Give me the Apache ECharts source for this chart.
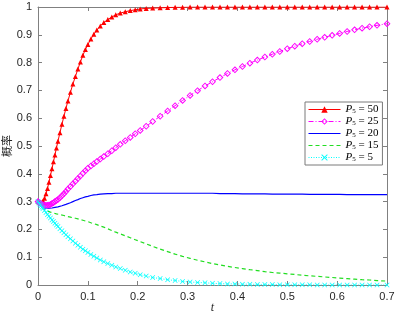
<!DOCTYPE html>
<html>
<head>
<meta charset="utf-8">
<script src="https://cdn.jsdelivr.net/npm/echarts@6/dist/echarts.min.js"></script>
<style>
html, body { margin: 0; padding: 0; background: #fff; }
#main { width: 397px; height: 316px; }
</style>
</head>
<body>
<div id="main"></div>
<script>
// ---------------- data ----------------
var tVals = [0, 0.002, 0.004, 0.006, 0.008, 0.01, 0.013, 0.016, 0.019, 0.022, 0.025, 0.028, 0.031, 0.034, 0.037, 0.04,
    0.044, 0.048, 0.052, 0.056, 0.06, 0.065, 0.07, 0.075, 0.08, 0.085, 0.09, 0.095, 0.1, 0.106, 0.112, 0.118,
    0.125, 0.132, 0.14, 0.148, 0.156, 0.165, 0.175, 0.185, 0.195, 0.205, 0.217, 0.23, 0.245, 0.26, 0.275, 0.29,
    0.305, 0.32, 0.335, 0.35, 0.365, 0.38, 0.395, 0.41, 0.425, 0.44, 0.455, 0.47, 0.485, 0.5, 0.515, 0.53,
    0.545, 0.56, 0.575, 0.59, 0.605, 0.62, 0.635, 0.65, 0.665, 0.68, 0.7];

// P5 = 50
var p50 = [0.3, 0.297, 0.295, 0.295, 0.297, 0.302, 0.312, 0.328, 0.347, 0.37, 0.394, 0.418, 0.443, 0.468, 0.493, 0.517,
    0.548, 0.578, 0.607, 0.635, 0.662, 0.693, 0.723, 0.75, 0.777, 0.802, 0.826, 0.847, 0.865, 0.885, 0.902, 0.917,
    0.932, 0.944, 0.955, 0.964, 0.972, 0.978, 0.983, 0.987, 0.99, 0.993, 0.995, 0.996, 0.997, 0.998, 0.999, 0.999,
    1, 1, 1, 1, 1, 1, 1, 1, 1, 1, 1, 1, 1, 1, 1, 1,
    1, 1, 1, 1, 1, 1, 1, 1, 1, 1, 1];
// P5 = 25
var p25 = [0.3, 0.297, 0.294, 0.292, 0.29, 0.289, 0.288, 0.287, 0.287, 0.288, 0.29, 0.293, 0.296, 0.3, 0.304, 0.308,
    0.314, 0.321, 0.328, 0.336, 0.345, 0.354, 0.364, 0.373, 0.383, 0.392, 0.402, 0.411, 0.42, 0.428, 0.436, 0.444,
    0.453, 0.462, 0.472, 0.483, 0.494, 0.506, 0.519, 0.531, 0.544, 0.556, 0.571, 0.588, 0.607, 0.626, 0.645, 0.664,
    0.682, 0.699, 0.716, 0.731, 0.746, 0.761, 0.774, 0.786, 0.798, 0.809, 0.82, 0.83, 0.84, 0.85, 0.859, 0.868,
    0.876, 0.884, 0.891, 0.898, 0.905, 0.912, 0.918, 0.924, 0.929, 0.934, 0.94];
// P5 = 20
var p20 = [0.3, 0.293, 0.287, 0.283, 0.28, 0.278, 0.277, 0.276, 0.276, 0.276, 0.277, 0.277, 0.278, 0.279, 0.28, 0.281,
    0.283, 0.285, 0.287, 0.29, 0.293, 0.296, 0.3, 0.304, 0.307, 0.311, 0.314, 0.317, 0.319, 0.322, 0.324, 0.325,
    0.327, 0.328, 0.329, 0.329, 0.33, 0.33, 0.33, 0.33, 0.33, 0.33, 0.33, 0.33, 0.33, 0.33, 0.33, 0.33,
    0.33, 0.33, 0.33, 0.33, 0.329, 0.329, 0.329, 0.328, 0.328, 0.328, 0.328, 0.327, 0.327, 0.327, 0.327, 0.327,
    0.326, 0.326, 0.326, 0.326, 0.326, 0.325, 0.325, 0.325, 0.325, 0.325, 0.325];
// P5 = 15
var p15 = [0.3, 0.293, 0.287, 0.282, 0.278, 0.275, 0.271, 0.268, 0.266, 0.264, 0.262, 0.26, 0.259, 0.257, 0.256, 0.255,
    0.253, 0.252, 0.25, 0.248, 0.246, 0.244, 0.242, 0.24, 0.238, 0.235, 0.233, 0.23, 0.228, 0.224, 0.221, 0.217,
    0.212, 0.208, 0.202, 0.196, 0.19, 0.184, 0.177, 0.17, 0.163, 0.156, 0.148, 0.139, 0.129, 0.12, 0.111, 0.103,
    0.096, 0.089, 0.083, 0.077, 0.072, 0.067, 0.063, 0.059, 0.055, 0.052, 0.048, 0.045, 0.043, 0.04, 0.038, 0.035,
    0.033, 0.031, 0.029, 0.027, 0.025, 0.023, 0.021, 0.019, 0.018, 0.016, 0.014];
// P5 = 5
var p5 = [0.3, 0.295, 0.29, 0.285, 0.28, 0.275, 0.268, 0.261, 0.254, 0.247, 0.241, 0.234, 0.228, 0.222, 0.216, 0.21,
    0.202, 0.195, 0.188, 0.181, 0.174, 0.166, 0.158, 0.15, 0.143, 0.136, 0.129, 0.123, 0.117, 0.11, 0.103, 0.097,
    0.09, 0.084, 0.077, 0.071, 0.065, 0.059, 0.053, 0.047, 0.042, 0.037, 0.032, 0.027, 0.023, 0.019, 0.016, 0.013,
    0.011, 0.009, 0.008, 0.006, 0.005, 0.004, 0.004, 0.003, 0.003, 0.002, 0.002, 0.002, 0.001, 0.001, 0.001, 0.001,
    0.001, 0, 0, 0, 0, 0, 0, 0, 0, 0, 0];

var seriesNames = ['P5 = 50', 'P5 = 25', 'P5 = 20', 'P5 = 15', 'P5 = 5'];
var legendNums = ['50', '25', '20', '15', '5'];
var xTicks = [0, 0.1, 0.2, 0.3, 0.4, 0.5, 0.6, 0.7];
var yTicks = [0, 0.1, 0.2, 0.3, 0.4, 0.5, 0.6, 0.7, 0.8, 0.9, 1];

// ---------------- styles ----------------
var axisGrey = '#808080';
var labelColor = '#262626';
var colors = ['#ff0000', '#ff00ff', '#0000ff', '#22dd22', '#00ffff'];
var dashes = ['solid', [5, 2, 1, 2], 'solid', [4, 3], [1, 1.5]];
var triSym = 'triangle';
var diaSym = 'path://M5,0L10,5L5,10L0,5Z M5,1.9L1.9,5L5,8.1L8.1,5Z';
var xSym = 'path://M0,1L1,0L5,4L9,0L10,1L6,5L10,9L9,10L5,6L1,10L0,9L4,5Z';

function pairs(ys) {
    var out = [];
    for (var i = 0; i < tVals.length; i++) {
        out.push([tVals[i], ys[i]]);
    }
    return out;
}

var chart = echarts.init(document.getElementById('main'));

function baseX(show) {
    return {
        type: 'value',
        min: xTicks[0],
        max: xTicks[xTicks.length - 1],
        interval: 0.1,
        axisLine: { show: true, onZero: false, lineStyle: { color: axisGrey, width: 1 } },
        axisTick: { show: true, inside: true, length: 4, lineStyle: { color: axisGrey } },
        axisLabel: {
            show: show, color: labelColor, fontSize: 11, margin: 6,
            fontFamily: 'Liberation Sans, Arial, sans-serif'
        },
        splitLine: { show: false }
    };
}
function baseY(show) {
    return {
        type: 'value',
        min: yTicks[0],
        max: yTicks[yTicks.length - 1],
        interval: 0.1,
        axisLine: { show: true, onZero: false, lineStyle: { color: axisGrey, width: 1 } },
        axisTick: { show: true, inside: true, length: 4, lineStyle: { color: axisGrey } },
        axisLabel: {
            show: show, color: labelColor, fontSize: 11, margin: 6,
            fontFamily: 'Liberation Sans, Arial, sans-serif'
        },
        splitLine: { show: false }
    };
}

var xBottom = baseX(true);
xBottom.name = 't';
xBottom.nameLocation = 'middle';
xBottom.nameGap = 17;
xBottom.nameMoveOverlap = false;
xBottom.nameTextStyle = { fontFamily: 'Liberation Serif, Times New Roman, serif', fontStyle: 'italic', fontSize: 12, color: labelColor };
var xTop = baseX(false);
xTop.position = 'top';

var yLeft = baseY(true);
yLeft.name = '概率';
yLeft.nameLocation = 'middle';
yLeft.nameGap = 26;
yLeft.nameMoveOverlap = false;
yLeft.nameTextStyle = { fontFamily: 'Noto Sans CJK SC', fontSize: 11, color: labelColor };
var yRight = baseY(false);
yRight.position = 'right';

// legend entries, the plain-line ones get no marker
var legendData = [];
for (var i = 0; i < seriesNames.length; i++) {
    var item = { name: seriesNames[i], lineStyle: { color: colors[i], width: 1, type: dashes[i] } };
    if (i == 2 || i == 3) {
        item.itemStyle = { opacity: 0 };
    }
    legendData.push(item);
}

var option = {
    animation: false,
    backgroundColor: '#fff',
    grid: { left: 38, right: 10, top: 7, bottom: 31, containLabel: false, outerBoundsMode: 'none' },
    xAxis: [xBottom, xTop],
    yAxis: [yLeft, yRight],
    legend: {
        orient: 'vertical',
        left: 305,
        top: 102,
        padding: [2, 4, 2, 3],
        itemGap: 1,
        itemWidth: 32,
        itemHeight: 8,
        backgroundColor: '#fff',
        borderColor: '#7a7a7a',
        borderWidth: 1,
        borderRadius: 0,
        data: legendData,
        formatter: function (name) {
            var k = seriesNames.indexOf(name);
            return '{i|P}{s|5}{n| = ' + legendNums[k] + '}';
        },
        textStyle: {
            color: '#000',
            fontFamily: 'Liberation Serif, Times New Roman, serif',
            fontSize: 11,
            lineHeight: 11,
            rich: {
                i: { fontStyle: 'italic', fontSize: 11, fontFamily: 'Liberation Serif, serif', lineHeight: 11 },
                s: { fontSize: 7, fontFamily: 'Liberation Serif, serif', verticalAlign: 'bottom', lineHeight: 8 },
                n: { fontSize: 11, fontFamily: 'Liberation Serif, serif', lineHeight: 11 }
            }
        }
    },
    series: [
        {
            name: seriesNames[0], type: 'line', data: pairs(p50),
            color: colors[0],
            lineStyle: { width: 1, type: dashes[0] },
            symbol: triSym, symbolSize: 5, showSymbol: true,
            itemStyle: { color: colors[0] }
        },
        {
            name: seriesNames[1], type: 'line', data: pairs(p25),
            color: colors[1],
            lineStyle: { width: 1, type: dashes[1] },
            symbol: diaSym, symbolSize: 7, showSymbol: true,
            itemStyle: { color: colors[1] }
        },
        {
            name: seriesNames[2], type: 'line', data: pairs(p20),
            color: colors[2],
            lineStyle: { width: 1.2, type: dashes[2] },
            symbol: 'none', showSymbol: false
        },
        {
            name: seriesNames[3], type: 'line', data: pairs(p15),
            color: colors[3],
            lineStyle: { width: 1.2, type: dashes[3] },
            symbol: 'none', showSymbol: false
        },
        {
            name: seriesNames[4], type: 'line', data: pairs(p5),
            color: colors[4],
            lineStyle: { width: 1, type: dashes[4] },
            symbol: xSym, symbolSize: 5, showSymbol: true,
            itemStyle: { color: colors[4] }
        }
    ]
};
chart.setOption(option);
</script>
</body>
</html>
